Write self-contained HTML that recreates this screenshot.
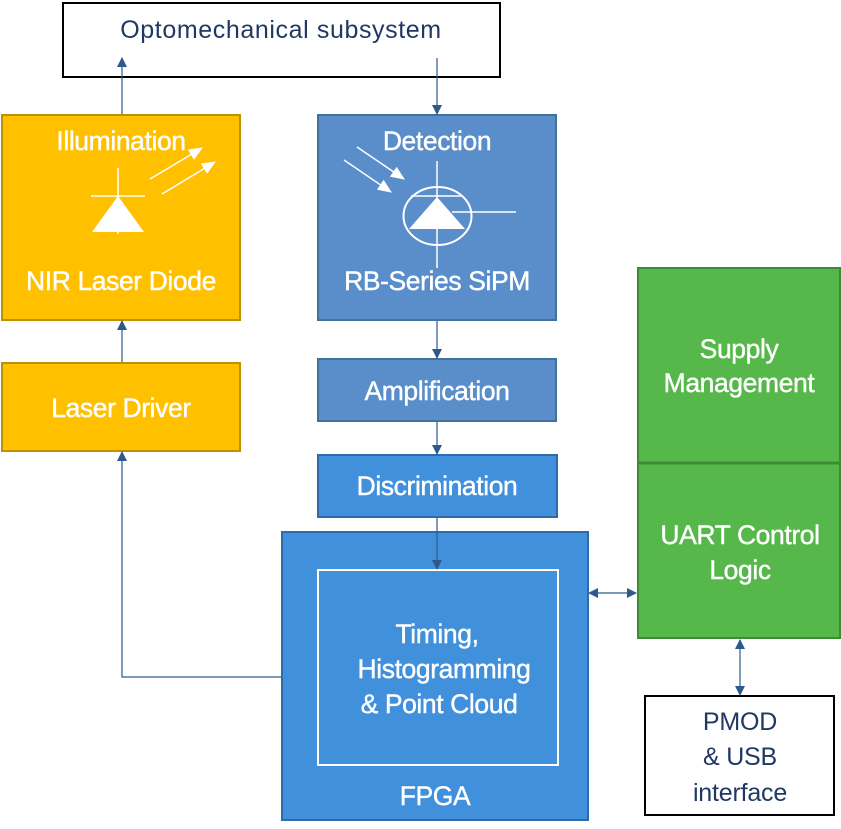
<!DOCTYPE html>
<html><head><meta charset="utf-8"><style>
html,body{margin:0;padding:0;background:#fff;}
svg{display:block;}
text{font-family:"Liberation Sans",sans-serif;}
.w{fill:#fff;stroke:#fff;stroke-width:0.4;font-size:26.5px;letter-spacing:-0.4px;}
.d{fill:#1f3864;font-size:25px;letter-spacing:-0.2px;}
</style></head><body>
<svg width="841" height="829" viewBox="0 0 841 829" xmlns="http://www.w3.org/2000/svg">
<defs>
<marker id="a" markerWidth="10" markerHeight="10" refX="9" refY="5" orient="auto" markerUnits="userSpaceOnUse"><path d="M0,0 L10,5 L0,10 z" fill="#2e5a8a"/></marker>
<marker id="as" markerWidth="10" markerHeight="10" refX="1" refY="5" orient="auto" markerUnits="userSpaceOnUse"><path d="M10,0 L0,5 L10,10 z" fill="#2e5a8a"/></marker>
<marker id="w" markerWidth="14" markerHeight="12" refX="13" refY="6" orient="auto" markerUnits="userSpaceOnUse"><path d="M0,0 L14,6 L0,12 z" fill="#fff"/></marker>
</defs>
<rect x="63" y="3" width="437" height="74" fill="#fff" stroke="#000" stroke-width="2"/>
<text x="281" y="38" class="d" text-anchor="middle" style="letter-spacing:0.6px">Optomechanical  subsystem</text>
<rect x="2" y="115" width="238" height="205" fill="#ffc000" stroke="#bf9000" stroke-width="2"/>
<text x="121" y="150" class="w" text-anchor="middle">Illumination</text>
<text x="121" y="290" class="w" text-anchor="middle">NIR Laser Diode</text>
<line x1="118" y1="168" x2="118" y2="234" stroke="#fff" stroke-width="1.5"/>
<line x1="91" y1="196" x2="145" y2="196" stroke="#fff" stroke-width="1.5"/>
<path d="M118,196 L144,232 L92,232 z" fill="#fff"/>
<line x1="150" y1="179" x2="202" y2="148" stroke="#fff" stroke-width="1.5" marker-end="url(#w)"/>
<line x1="162" y1="194" x2="215" y2="162" stroke="#fff" stroke-width="1.5" marker-end="url(#w)"/>
<rect x="318" y="115" width="238" height="205" fill="#5a8ecb" stroke="#41719c" stroke-width="2"/>
<text x="437" y="150" class="w" text-anchor="middle">Detection</text>
<text x="437" y="290" class="w" text-anchor="middle">RB-Series SiPM</text>
<line x1="437" y1="161" x2="437" y2="268" stroke="#fff" stroke-width="1.5"/>
<ellipse cx="437.5" cy="216" rx="34" ry="29" fill="none" stroke="#fff" stroke-width="2"/>
<line x1="411" y1="196" x2="461" y2="196" stroke="#fff" stroke-width="1.5"/>
<path d="M437,197 L465,229 L409,229 z" fill="#fff"/>
<line x1="452" y1="212" x2="516" y2="212" stroke="#fff" stroke-width="1.5"/>
<line x1="344" y1="160" x2="391" y2="192" stroke="#fff" stroke-width="1.5" marker-end="url(#w)"/>
<line x1="357" y1="147" x2="404" y2="179" stroke="#fff" stroke-width="1.5" marker-end="url(#w)"/>
<rect x="2" y="363" width="238" height="88" fill="#ffc000" stroke="#bf9000" stroke-width="2"/>
<text x="121" y="417" class="w" text-anchor="middle">Laser Driver</text>
<rect x="318" y="359" width="238" height="62" fill="#5a8ecb" stroke="#41719c" stroke-width="2"/>
<text x="437" y="400" class="w" text-anchor="middle">Amplification</text>
<rect x="318" y="455" width="239" height="62" fill="#4190dc" stroke="#2e6ba8" stroke-width="2"/>
<text x="437" y="495" class="w" text-anchor="middle">Discrimination</text>
<rect x="282" y="532" width="306" height="288" fill="#4190dc" stroke="#2e6ba8" stroke-width="2"/>
<rect x="318" y="570" width="240" height="195" fill="none" stroke="#fff" stroke-width="2"/>
<text x="437" y="643" class="w" text-anchor="middle">Timing,</text>
<text x="444" y="678" class="w" text-anchor="middle">Histogramming</text>
<text x="439" y="713" class="w" text-anchor="middle">&amp; Point Cloud</text>
<text x="435" y="805" class="w" text-anchor="middle">FPGA</text>
<rect x="638" y="268" width="202" height="195" fill="#56b84a" stroke="#3d8c35" stroke-width="2"/>
<rect x="638" y="463" width="202" height="175" fill="#56b84a" stroke="#3d8c35" stroke-width="2"/>
<line x1="638" y1="463" x2="840" y2="463" stroke="#3d8c35" stroke-width="3"/>
<text x="739" y="358" class="w" text-anchor="middle">Supply</text>
<text x="739" y="392" class="w" text-anchor="middle">Management</text>
<text x="740" y="544" class="w" text-anchor="middle">UART Control</text>
<text x="740" y="579" class="w" text-anchor="middle">Logic</text>
<rect x="645" y="696" width="189" height="119" fill="#fff" stroke="#000" stroke-width="2"/>
<text x="740" y="730" class="d" text-anchor="middle">PMOD</text>
<text x="740" y="765" class="d" text-anchor="middle">&amp; USB</text>
<text x="740" y="801" class="d" text-anchor="middle">interface</text>
<g stroke="#2e5a8a" stroke-width="1.2" fill="none">
<line x1="122" y1="114" x2="122" y2="58" marker-end="url(#a)"/>
<line x1="437" y1="58" x2="437" y2="114" marker-end="url(#a)"/>
<line x1="437" y1="321" x2="437" y2="358" marker-end="url(#a)"/>
<line x1="437" y1="422" x2="437" y2="454" marker-end="url(#a)"/>
<line x1="437" y1="518" x2="437" y2="569" marker-end="url(#a)"/>
<line x1="122" y1="362" x2="122" y2="321" marker-end="url(#a)"/>
<polyline points="281,677 122,677 122,452" marker-end="url(#a)"/>
<line x1="589" y1="593" x2="636" y2="593" marker-start="url(#as)" marker-end="url(#a)"/>
<line x1="740" y1="640" x2="740" y2="695" marker-start="url(#as)" marker-end="url(#a)"/>
</g>
</svg>
</body></html>
